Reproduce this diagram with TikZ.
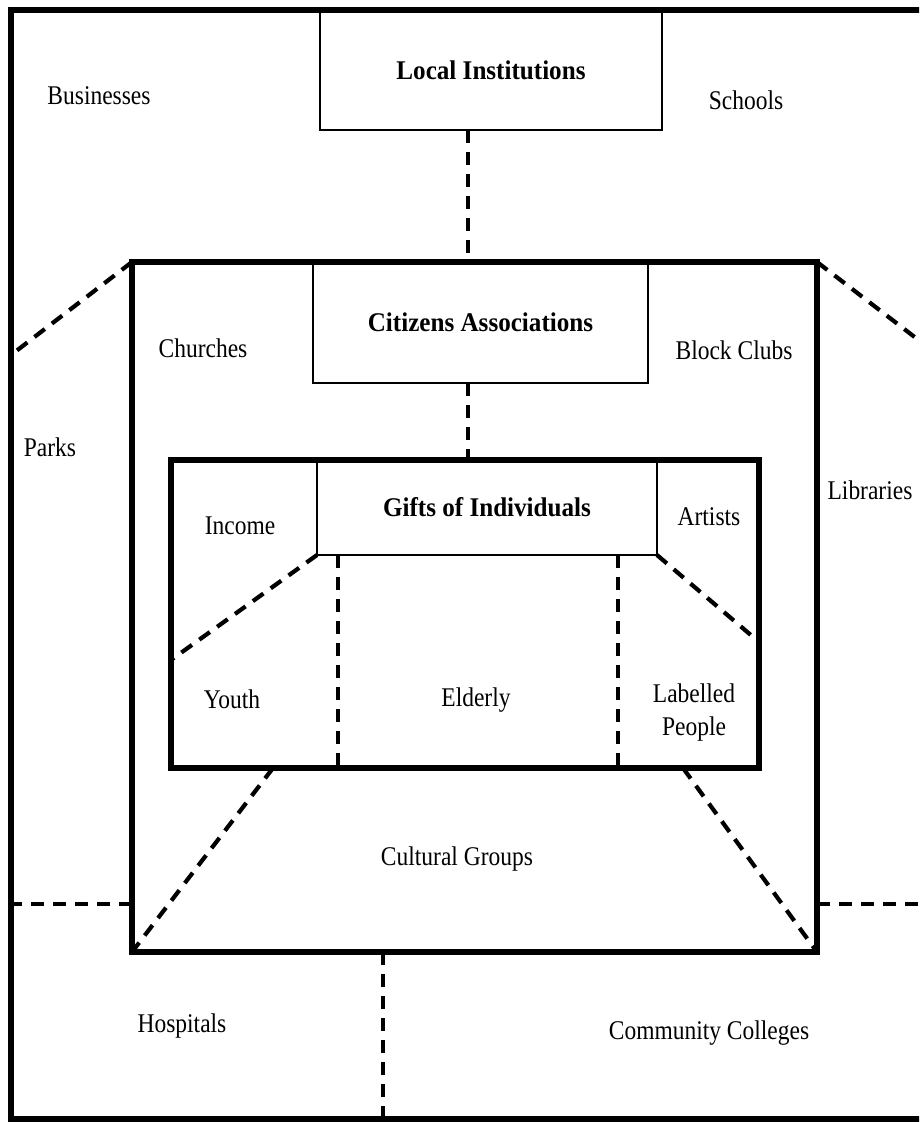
\documentclass[tikz,border=0pt]{standalone}
\usepackage{fontspec}
\setmainfont{Liberation Serif}[FakeStretch=0.87]
\newfontfamily\boldface{Liberation Serif}[FakeStretch=0.93]

\begin{document}
\begin{tikzpicture}[x=1pt, y=-1pt,
	heavy/.style={draw, line width=6.5pt, outer sep=0pt, inner sep=0pt},
	cell/.style={draw, line width=2pt, outer sep=0pt, font=\boldface\bfseries\fontsize{27}{33}\selectfont},
	dashline/.style={line width=4.2pt, dash pattern=on 13pt off 9pt},
	lbl/.style={anchor=base, inner sep=0pt, font=\fontsize{27}{33}\selectfont}]
	\useasboundingbox (0,0) rectangle (919,1122);
	\clip (0,0) rectangle (919,1122);
	%frames
		\node[heavy, minimum width=927pt, minimum height=1109pt] (outer) at (474.5,564.5) {};
		\node[heavy, minimum width=685pt, minimum height=690pt] (middle) at (474.5,607) {};
		\node[heavy, minimum width=588pt, minimum height=308pt] (inner) at (465,614) {};
	%title boxes
		\node[cell, minimum width=342pt, minimum height=120pt] (local) at (491,70) {Local Institutions};
		\node[cell, minimum width=335pt, minimum height=121pt] (citizens) at (480.5,322.5) {Citizens Associations};
		\node[cell, minimum width=340pt, minimum height=95pt] (gifts) at (487,507.5) {Gifts of Individuals};
	%spine
		\coordinate (spine) at (468,0);
		\draw[dashline] (local.south -| spine) -- (middle.north -| spine);
		\draw[dashline] (citizens.south -| spine) -- (inner.north -| spine);
	%outer ring
		\draw[dashline] (middle.north west) -- (outer.west |- 0,355);
		\draw[dashline] (middle.north east) -- (outer.east |- 0,355);
		\draw[dashline] (middle.west |- 0,904) -- (outer.west |- 0,904);
		\draw[dashline] (middle.east |- 0,904) -- (outer.east |- 0,904);
		\draw[dashline] (middle.south -| 383,0) -- (outer.south -| 383,0);
	%inner ring
		\draw[dashline] (gifts.south west) -- (inner.west |- 0,660);
		\draw[dashline] (gifts.south east) -- (inner.east |- 0,642);
		\draw[dashline] (gifts.south -| 338,0) -- (inner.south -| 338,0);
		\draw[dashline] (gifts.south -| 618,0) -- (inner.south -| 618,0);
		\draw[dashline] (inner.south -| 273,0) -- (middle.south west);
		\draw[dashline] (inner.south -| 683,0) -- (middle.south east);
	%labels
		\node[lbl] (businesses) at (99,104) {Businesses};
		\node[lbl] (schools) at (746,109) {Schools};
		\node[lbl] (churches) at (203,357) {Churches};
		\node[lbl] (blockclubs) at (734,359) {Block Clubs};
		\node[lbl] (parks) at (50,456) {Parks};
		\node[lbl] (libraries) at (870,499) {Libraries};
		\node[lbl] (income) at (240,534) {Income};
		\node[lbl] (artists) at (709,525) {Artists};
		\node[lbl] (youth) at (232,708) {Youth};
		\node[lbl] (elderly) at (476,706) {Elderly};
		\node[lbl, anchor=center, align=center] (labelled) at (694,712) {Labelled\\People};
		\node[lbl] (cultural) at (457,865) {Cultural Groups};
		\node[lbl] (hospitals) at (182,1032) {Hospitals};
		\node[lbl] (colleges) at (709,1039) {Community Colleges};
\end{tikzpicture}
\end{document}
